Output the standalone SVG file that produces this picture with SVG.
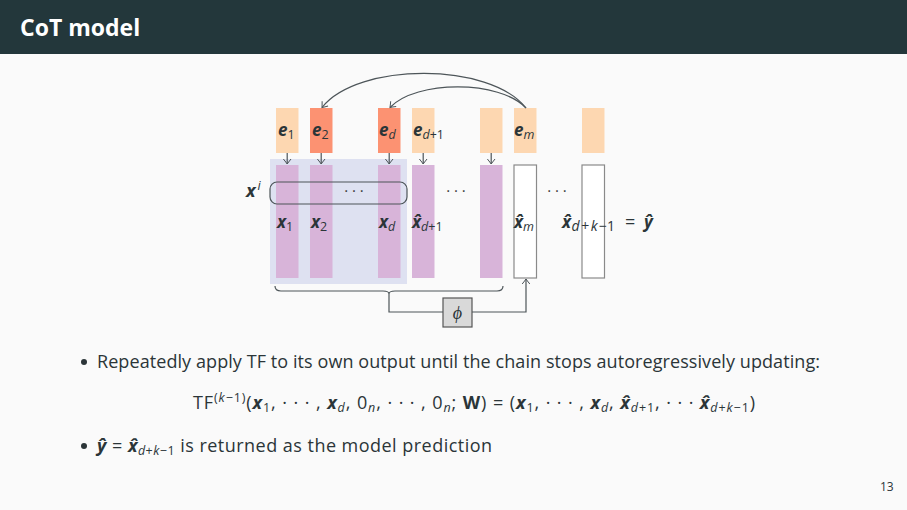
<svg xmlns="http://www.w3.org/2000/svg" width="907" height="510" viewBox="0 0 907 510">
<style>
text{font-family:"Open Sans","Liberation Sans",sans-serif;fill:#2b3538}
.v{font-weight:bold;font-style:italic;font-size:17px}
.s{font-size:12.5px;font-style:italic;font-weight:normal}
.sn{font-size:12.5px;font-style:normal;font-weight:normal}
.peach{fill:#fdd7b1}
.salmon{fill:#fc9272}
.bar{fill:#d8b4d9}
.wbox{fill:#ffffff;stroke:#8a8a8a;stroke-width:1.2}
.ln{fill:none;stroke:#4d5559;stroke-width:1.2}
.dots{font-size:15px;text-anchor:middle;fill:#3a3a3a}
.body{font-size:18px}
</style>
<defs>
<marker id="ah" viewBox="-6 -5 8 10" markerWidth="8" markerHeight="10" refX="0" refY="0" orient="auto" markerUnits="userSpaceOnUse">
<path d="M-5,-3.8 Q-1.5,-1 0,0 Q-1.5,1 -5,3.8" fill="none" stroke="#4d5559" stroke-width="1"/>
</marker>
</defs>
<rect x="0" y="0" width="907" height="510" fill="#fafafa"/>
<g id="header">
<rect x="0" y="0" width="907" height="54" fill="#23373b"/>
<text x="20" y="36" style="font-size:23px;font-weight:bold;fill:#ffffff">CoT model</text>
</g>

<g id="bg-block"><rect x="270" y="159" width="137" height="125" fill="#dee1f1"/></g>

<g id="col-1">
<rect class="peach" x="276" y="108" width="22.5" height="45"/>
<rect class="bar" x="276" y="165" width="22.5" height="113"/>
<text class="v" x="278" y="136">e<tspan class="sn" dy="3">1</tspan></text>
<text class="v" x="277" y="228">x<tspan class="sn" dy="3">1</tspan></text>
</g>
<g id="col-2">
<rect class="salmon" x="310" y="108" width="22.5" height="45"/>
<rect class="bar" x="310" y="165" width="22.5" height="113"/>
<text class="v" x="312" y="136">e<tspan class="sn" dy="3">2</tspan></text>
<text class="v" x="311" y="228">x<tspan class="sn" dy="3">2</tspan></text>
</g>
<g id="col-d">
<rect class="salmon" x="378" y="108" width="22.5" height="45"/>
<rect class="bar" x="378" y="165" width="22.5" height="113"/>
<text class="v" x="379" y="136">e<tspan class="s" dy="3">d</tspan></text>
<text class="v" x="379" y="228">x<tspan class="s" dy="3">d</tspan></text>
</g>
<g id="col-d1">
<rect class="peach" x="412" y="108" width="22.5" height="45"/>
<rect class="bar" x="412" y="165" width="22.5" height="113"/>
<text class="v" x="413" y="136">e<tspan class="s" dy="3">d</tspan><tspan class="sn">+1</tspan></text>
<text class="v" x="412" y="228">x̂<tspan class="s" dy="3">d</tspan><tspan class="sn">+1</tspan></text>
</g>
<g id="col-blank">
<rect class="peach" x="480" y="108" width="22.5" height="45"/>
<rect class="bar" x="480" y="165" width="22.5" height="113"/>
</g>
<g id="col-m">
<rect class="peach" x="514" y="108" width="22.5" height="45"/>
<rect class="wbox" x="514" y="165" width="22.5" height="113"/>
<text class="v" x="514" y="136">e<tspan class="s" dy="3">m</tspan></text>
<text class="v" x="514" y="228">x̂<tspan class="s" dy="3">m</tspan></text>
</g>
<g id="col-last">
<rect class="peach" x="582" y="108" width="22.5" height="45"/>
<rect class="wbox" x="582" y="165" width="22.5" height="113"/>
<text class="v" x="562" y="228">x̂<tspan class="s" dy="3" dx="0.5" style="font-size:14px">d</tspan><tspan class="sn" dx="1.5" style="font-size:14px">+</tspan><tspan class="s" dx="1.5" style="font-size:14px">k</tspan><tspan class="sn" dx="1.5" style="font-size:14px">−1</tspan><tspan x="625" dy="-3" style="font-weight:normal;font-style:normal;font-size:18px">=</tspan><tspan x="644">ŷ</tspan></text>
</g>

<g id="xi-group">
<rect x="270" y="182" width="137" height="22" rx="7" class="ln"/>
<text class="v" x="246" y="197" style="font-size:18px">x<tspan class="s" dy="-7" dx="2">i</tspan></text>
<text class="dots" x="354" y="196">· · ·</text>
</g>
<text class="dots" x="456" y="196">· · ·</text>
<text class="dots" x="557" y="196">· · ·</text>

<g id="phi">
<rect x="443" y="298" width="29" height="29" fill="#d9d9d9" stroke="#555" stroke-width="1.2"/>
<text x="457.5" y="319" style="font-family:'Liberation Serif',serif;font-style:italic;font-size:18px;text-anchor:middle">ϕ</text>
</g>

<g id="connectors">
<line class="ln" x1="287.2" y1="153" x2="287.2" y2="164" marker-end="url(#ah)"/>
<line class="ln" x1="321.2" y1="153" x2="321.2" y2="164" marker-end="url(#ah)"/>
<line class="ln" x1="389.2" y1="153" x2="389.2" y2="164" marker-end="url(#ah)"/>
<line class="ln" x1="423.2" y1="153" x2="423.2" y2="164" marker-end="url(#ah)"/>
<line class="ln" x1="491.2" y1="153" x2="491.2" y2="164" marker-end="url(#ah)"/>
<path class="ln" d="M526,108 C490,62 358,62 322,107.5" marker-end="url(#ah)"/>
<path class="ln" d="M526,108 C500,80 416,80 390,107.5" marker-end="url(#ah)"/>
<path class="ln" d="M275,286 Q275,291 281,291 L383,291 Q389,291 389,294 Q389,291 395,291 L497,291 Q503,291 503,286"/>
<path class="ln" d="M389,294 V312 H443"/>
<path class="ln" d="M472,312 H526 V279" marker-end="url(#ah)"/>
</g>

<g id="bullets">
<circle cx="84" cy="362" r="3" fill="#2b3538"/>
<text class="body" x="97" y="368" textLength="723" lengthAdjust="spacing">Repeatedly apply TF to its own output until the chain stops autoregressively updating:</text>
<text class="body" x="193" y="409" textLength="562" lengthAdjust="spacing">TF<tspan dy="-7" style="font-size:12.5px">(<tspan font-style="italic">k</tspan>−1)</tspan><tspan dy="7">(</tspan><tspan class="v" style="font-size:18px">x</tspan><tspan class="sn" dy="3">1</tspan><tspan dy="-3">, · · · , </tspan><tspan class="v" style="font-size:18px">x</tspan><tspan class="s" dy="3">d</tspan><tspan dy="-3">, 0</tspan><tspan class="s" dy="3">n</tspan><tspan dy="-3">, · · · , 0</tspan><tspan class="s" dy="3">n</tspan><tspan dy="-3">; </tspan><tspan style="font-weight:bold">W</tspan><tspan>) = (</tspan><tspan class="v" style="font-size:18px">x</tspan><tspan class="sn" dy="3">1</tspan><tspan dy="-3">, · · · , </tspan><tspan class="v" style="font-size:18px">x</tspan><tspan class="s" dy="3">d</tspan><tspan dy="-3">, </tspan><tspan class="v" style="font-size:18px">x̂</tspan><tspan class="s" dy="3">d</tspan><tspan class="sn">+1</tspan><tspan dy="-3">, · · · </tspan><tspan class="v" style="font-size:18px">x̂</tspan><tspan class="s" dy="3">d</tspan><tspan class="sn">+</tspan><tspan class="s">k</tspan><tspan class="sn">−1</tspan><tspan dy="-3">)</tspan></text>
<circle cx="84" cy="446" r="3" fill="#2b3538"/>
<text class="body" x="97" y="452" textLength="395" lengthAdjust="spacing"><tspan class="v" style="font-size:18px">ŷ</tspan> = <tspan class="v" style="font-size:18px">x̂</tspan><tspan class="s" dy="3">d</tspan><tspan class="sn">+</tspan><tspan class="s">k</tspan><tspan class="sn">−1</tspan><tspan dy="-3"> is returned as the model prediction</tspan></text>
</g>
<text x="880" y="491" style="font-size:12px">13</text>
</svg>
